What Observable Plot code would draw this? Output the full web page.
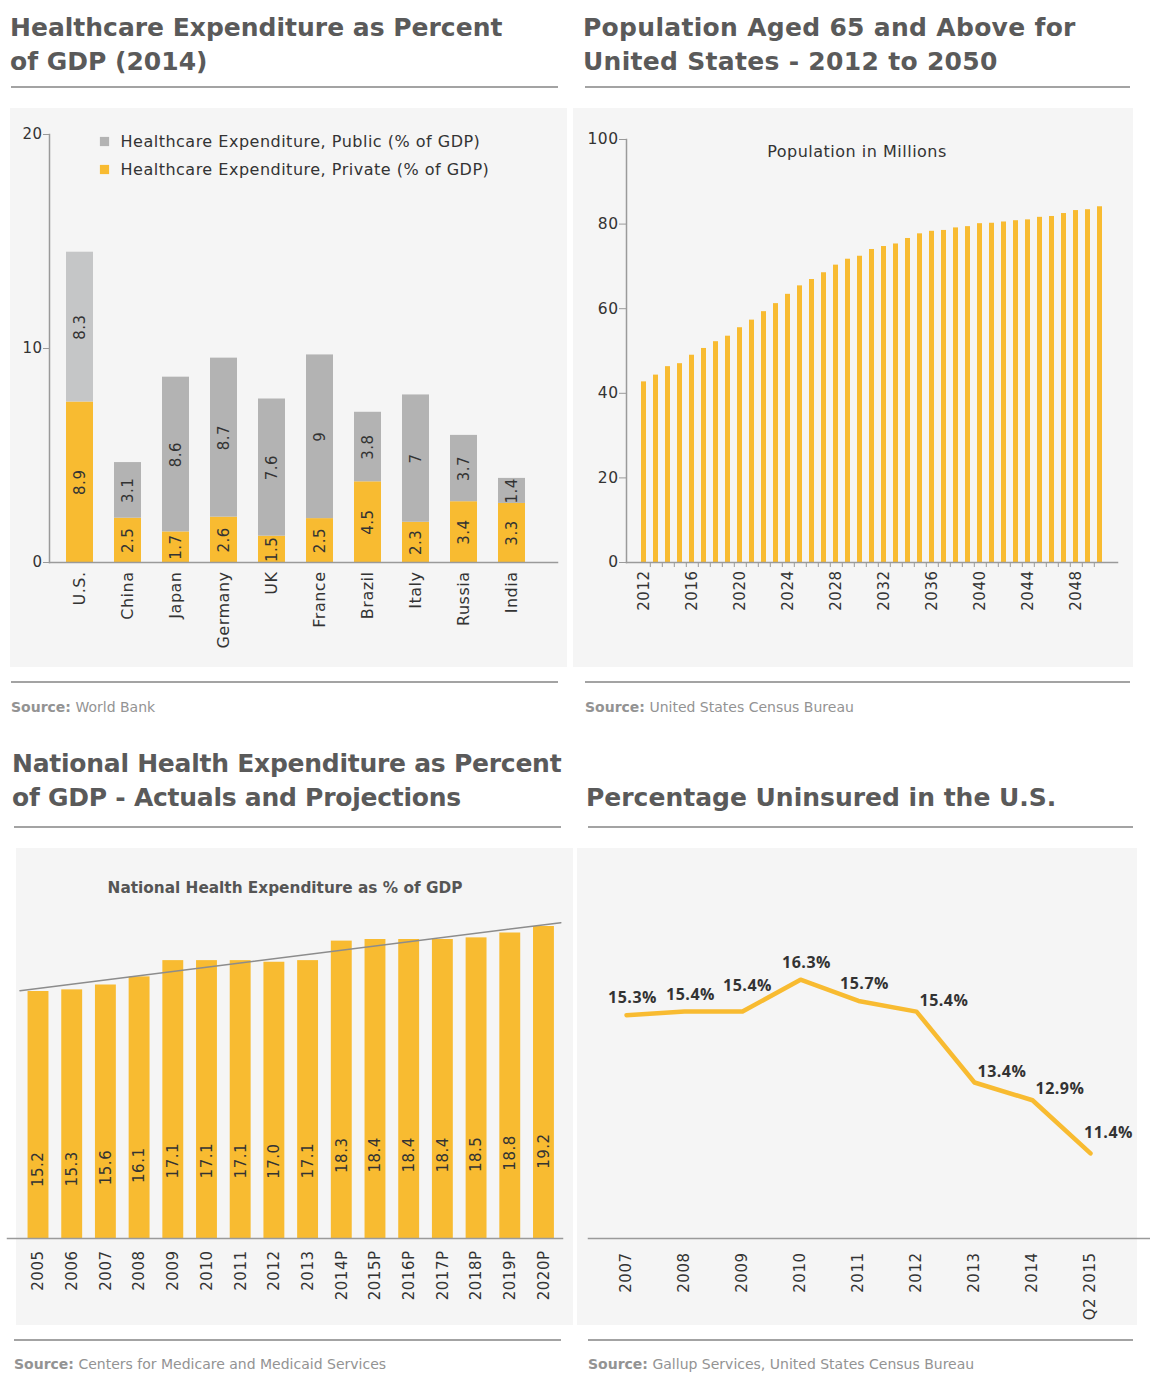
<!DOCTYPE html>
<html><head><meta charset="utf-8">
<script src="https://cdn.jsdelivr.net/npm/d3@7"></script>
<script src="https://cdn.jsdelivr.net/npm/@observablehq/plot@0.6"></script>
<style>
body{margin:0;background:#fff;font-family:"DejaVu Sans",sans-serif;}
#page{position:relative;width:1150px;height:1392px;overflow:hidden;}
.abs{position:absolute;}
.title{font-size:25px;font-weight:700;color:#5a5a5a;line-height:34px;white-space:nowrap;}
.rule{height:2px;background:#a3a3a3;}
.bg{background:#f5f5f5;}
.src{font-size:14px;line-height:14px;color:#939393;white-space:nowrap;}
.src b{font-weight:700;}
.sub{font-size:16px;line-height:16px;color:#333;white-space:nowrap;transform:translateX(-50%);letter-spacing:0.5px;}
</style></head><body><div id="page"></div>
<script>
// ---------- DATA ----------
// Panel 1: Healthcare expenditure (2014)
const countries = ["U.S.","China","Japan","Germany","UK","France","Brazil","Italy","Russia","India"];
const privateBar = [7.5,2.07,1.43,2.12,1.23,2.05,3.77,1.88,2.84,2.76];   // drawn heights
const publicBar  = [7.0,2.6,7.23,7.43,6.41,7.65,3.25,5.95,3.1,1.17];
const privateLabel = ["8.9","2.5","1.7","2.6","1.5","2.5","4.5","2.3","3.4","3.3"];
const publicLabel  = ["8.3","3.1","8.6","8.7","7.6","9","3.8","7","3.7","1.4"];
const seriesNames = ["Healthcare Expenditure, Public (% of GDP)","Healthcare Expenditure, Private (% of GDP)"];
const yTicksA = [0,10,20];

// Panel 2: Population aged 65+
const popYears = [2012,2013,2014,2015,2016,2017,2018,2019,2020,2021,2022,2023,2024,2025,2026,2027,2028,2029,2030,2031,2032,2033,2034,2035,2036,2037,2038,2039,2040,2041,2042,2043,2044,2045,2046,2047,2048,2049,2050];
const popValues = [42.7,44.3,46.3,47.0,49.0,50.6,52.2,53.5,55.5,57.3,59.3,61.2,63.4,65.4,66.9,68.5,70.3,71.7,72.4,74.0,74.7,75.3,76.6,77.7,78.3,78.5,79.1,79.4,80.1,80.2,80.5,80.8,81.0,81.6,81.8,82.5,83.2,83.4,84.1];
const popTickYears = [2012,2016,2020,2024,2028,2032,2036,2040,2044,2048];
const popYTicks = [0,20,40,60,80,100];

// Panel 3: National health expenditure as % of GDP
const nheYears = ["2005","2006","2007","2008","2009","2010","2011","2012","2013","2014P","2015P","2016P","2017P","2018P","2019P","2020P"];
const nheValues = [15.2,15.3,15.6,16.1,17.1,17.1,17.1,17.0,17.1,18.3,18.4,18.4,18.4,18.5,18.8,19.2];

// Panel 4: Percentage uninsured
const uninsYears = ["2007","2008","2009","2010","2011","2012","2013","2014","Q2 2015"];
const uninsValues = [15.3,15.4,15.4,16.3,15.7,15.4,13.4,12.9,11.4];

// ---------- STYLE ----------
const FONT = "'DejaVu Sans', sans-serif";
const YELLOW = "#f8bb31";
const GREY = "#b3b3b3";
const GREY_US = "#c5c6c7";
const AXIS = "#9a9a9a";
const INK = "#333";
const svgStyle = {fontFamily:FONT, background:"transparent", overflow:"visible", letterSpacing:"0.5px"};

const page = document.getElementById("page");
function add(html, cls, css) {
  const d = document.createElement("div");
  d.className = "abs " + cls;
  Object.assign(d.style, css);
  d.innerHTML = html;
  page.appendChild(d);
  return d;
}
function place(svg, left, top) {
  svg.style.position = "absolute";
  svg.style.left = left + "px";
  svg.style.top = top + "px";
  page.appendChild(svg);
}

// backgrounds
add("", "bg", {left:"10px", top:"108px", width:"557px", height:"559px"});
add("", "bg", {left:"573px", top:"108px", width:"560px", height:"559px"});
add("", "bg", {left:"16px", top:"848px", width:"557px", height:"477px"});
add("", "bg", {left:"577px", top:"848px", width:"560px", height:"477px"});

// titles
add("Healthcare Expenditure as Percent<br>of GDP (2014)", "title", {left:"10px", top:"11px"});
add("Population Aged 65 and Above for<br>United States - 2012 to 2050", "title", {left:"583px", top:"11px", letterSpacing:"0.3px"});
add("National Health Expenditure as Percent<br>of GDP - Actuals and Projections", "title", {left:"12px", top:"747px", letterSpacing:"-0.25px"});
add("Percentage Uninsured in the U.S.", "title", {left:"586px", top:"781px"});

// rules
[[11,86,547],[585,86,545],[11,681,547],[585,681,545],[14,826,547],[588,826,545],[14,1339,547],[588,1339,545]]
  .forEach(([l,t,w]) => add("", "rule", {left:l+"px", top:t+"px", width:w+"px"}));

// sources
add("<b>Source:</b> World Bank", "src", {left:"11px", top:"700px"});
add("<b>Source:</b> United States Census Bureau", "src", {left:"585px", top:"700px"});
add("<b>Source:</b> Centers for Medicare and Medicaid Services", "src", {left:"14px", top:"1357px"});
add("<b>Source:</b> Gallup Services, United States Census Bureau", "src", {left:"588px", top:"1357px"});

// in-panel subtitles
add("Population in Millions", "sub", {left:"857px", top:"143.5px"});
add("National Health Expenditure as % of GDP", "sub", {left:"285px", top:"880px", fontWeight:"700", color:"#555", fontSize:"15.3px", letterSpacing:"0"});

// ---------- PANEL 1 ----------
const rowsA = [];
countries.forEach((c, i) => {
  rowsA.push({country:c, series:"Private", h:privateBar[i], label:privateLabel[i]});
  rowsA.push({country:c, series:"Public", h:publicBar[i], label:publicLabel[i]});
});
const fillA = d => d.series === "Private" ? YELLOW : (d.country === "U.S." ? GREY_US : GREY);
const plotA = Plot.plot({
  width:567, height:560, marginLeft:49, marginRight:10, marginTop:26, marginBottom:106,
  style:svgStyle,
  x:{domain:countries, paddingInner:0.43, paddingOuter:0.42, align:0.34, label:null},
  y:{domain:[0,20], label:null},
  color:{type:"identity"},
  marks:[
    Plot.barY(rowsA, Plot.stackY({x:"country", y:"h", fill:fillA})),
    Plot.text(rowsA, Plot.stackY({x:"country", y:"h", text:"label", rotate:-90, fontSize:15, fill:INK})),
    Plot.frame({anchor:"left", stroke:AXIS, strokeWidth:1.5}),
    Plot.frame({anchor:"bottom", stroke:AXIS, strokeWidth:1.5}),
    Plot.axisY({ticks:yTicksA, tickSize:6, tickPadding:1, fontSize:15, stroke:AXIS, fill:INK, label:null}),
    Plot.axisX({tickSize:0, tickPadding:9, tickRotate:-90, fontSize:16, fill:INK, label:null}),
    Plot.dot([seriesNames[0]], {frameAnchor:"top-left", dx:55, dy:7, symbol:"square", r:5.2, fill:GREY}),
    Plot.dot([seriesNames[1]], {frameAnchor:"top-left", dx:55, dy:35, symbol:"square", r:5.2, fill:YELLOW}),
    Plot.text([seriesNames[0]], {frameAnchor:"top-left", dx:71, dy:7, text:d=>d, textAnchor:"start", lineAnchor:"middle", fontSize:16, fill:INK}),
    Plot.text([seriesNames[1]], {frameAnchor:"top-left", dx:71, dy:35, text:d=>d, textAnchor:"start", lineAnchor:"middle", fontSize:16, fill:INK})
  ]
});
place(plotA, 0, 108);

// ---------- PANEL 2 ----------
const rowsB = popYears.map((y, i) => ({year:y, value:popValues[i]}));
const plotB = Plot.plot({
  width:560, height:560, marginLeft:53, marginRight:16, marginTop:31, marginBottom:106,
  style:svgStyle,
  x:{domain:popYears, paddingInner:0.56, paddingOuter:0.27, align:0.5, label:null},
  y:{domain:[0,100], label:null},
  marks:[
    Plot.barY(rowsB, {x:"year", y:"value", fill:YELLOW}),
    Plot.frame({anchor:"left", stroke:AXIS, strokeWidth:1.5}),
    Plot.frame({anchor:"bottom", stroke:AXIS, strokeWidth:1.5}),
    Plot.axisY({ticks:popYTicks, tickSize:7, tickPadding:1, fontSize:15.5, stroke:AXIS, fill:INK, label:null}),
    // tick marks between bars (band boundaries)
    Plot.axisX({ticks:popYears.slice(0, -1), tickSize:5, dx:6.3, stroke:AXIS, tickFormat:() => "", label:null}),
    Plot.axisX({ticks:popTickYears, tickSize:0, tickPadding:8, tickRotate:-90, fontSize:15, fill:INK, label:null, tickFormat:y => String(y)})
  ]
});
place(plotB, 573, 108);

// ---------- PANEL 3 ----------
const rowsC = nheYears.map((y, i) => ({i, year:y, value:nheValues[i]}));
const n = rowsC.length;
const mx = d3.mean(rowsC, d => d.i), my = d3.mean(rowsC, d => d.value);
const slope = d3.sum(rowsC, d => (d.i - mx) * (d.value - my)) / d3.sum(rowsC, d => (d.i - mx) ** 2);
const icpt = my - slope * mx;
const trend = [-0.55, n - 0.5].map(x => ({x, y: icpt + slope * x}));
const plotC = Plot.plot({
  width:575, height:478, marginLeft:7, marginRight:13, marginTop:0, marginBottom:88,
  style:svgStyle,
  x:{type:"linear", domain:[-0.92, n - 0.45], label:null},
  y:{domain:[0,24], label:null, axis:null},
  marks:[
    Plot.rectY(rowsC, {x1:d => d.i - 0.31, x2:d => d.i + 0.31, y:"value", fill:YELLOW}),
    Plot.line(trend, {x:"x", y:"y", stroke:"#8c8c8c", strokeWidth:1.5}),
    Plot.text(rowsC, {x:"i", y:d => d.value * 0.28, text:d => d.value.toFixed(1), rotate:-90, fontSize:15, fill:INK}),
    Plot.frame({anchor:"bottom", stroke:AXIS, strokeWidth:1.5}),
    Plot.axisX({ticks:rowsC.map(d => d.i), tickFormat:i => nheYears[i], tickSize:0, tickPadding:12, tickRotate:-90, fontSize:15, fill:INK, label:null})
  ]
});
place(plotC, 0, 848);

// ---------- PANEL 4 ----------
const last = uninsValues.length - 1;
const rowsD = uninsYears.map((y, i) => {
  const v = uninsValues[i];
  const prev = i > 0 ? uninsValues[i-1] : v, next = i < last ? uninsValues[i+1] : v;
  let kind = "above";
  if (i === last) kind = "end";
  else if (prev - v > 1 || v - next > 1) kind = "right";
  else if (next - v > 0.5) kind = "high";
  return {year:y, value:v, kind};
});
const pctFont = "'Open Sans', sans-serif";
const pct = d => d.value.toFixed(1) + "%";
const pctStyle = {x:"year", y:"value", text:pct, fontSize:16, fontWeight:700, fontFamily:pctFont, fill:INK};
const plotD = Plot.plot({
  width:573, height:478, marginLeft:11, marginRight:0, marginTop:0, marginBottom:88,
  style:svgStyle,
  x:{type:"point", domain:uninsYears, padding:0.81, align:0.384, label:null},
  y:{domain:[9,20], label:null, axis:null},
  marks:[
    Plot.line(rowsD, {x:"year", y:"value", stroke:YELLOW, strokeWidth:4.5, strokeLinejoin:"round"}),
    Plot.text(rowsD.filter(d => d.kind === "above"), {...pctStyle, dx:6, dy:-17}),
    Plot.text(rowsD.filter(d => d.kind === "high"), {...pctStyle, dx:5, dy:-26}),
    Plot.text(rowsD.filter(d => d.kind === "right"), {...pctStyle, dx:3, dy:-11, textAnchor:"start"}),
    Plot.text(rowsD.filter(d => d.kind === "end"), {...pctStyle, dx:18, dy:-21}),
    Plot.frame({anchor:"bottom", stroke:AXIS, strokeWidth:1.5}),
    Plot.axisX({tickSize:0, tickPadding:14, tickRotate:-90, fontSize:15, fill:INK, label:null})
  ]
});
place(plotD, 577, 848);
</script></body></html>
